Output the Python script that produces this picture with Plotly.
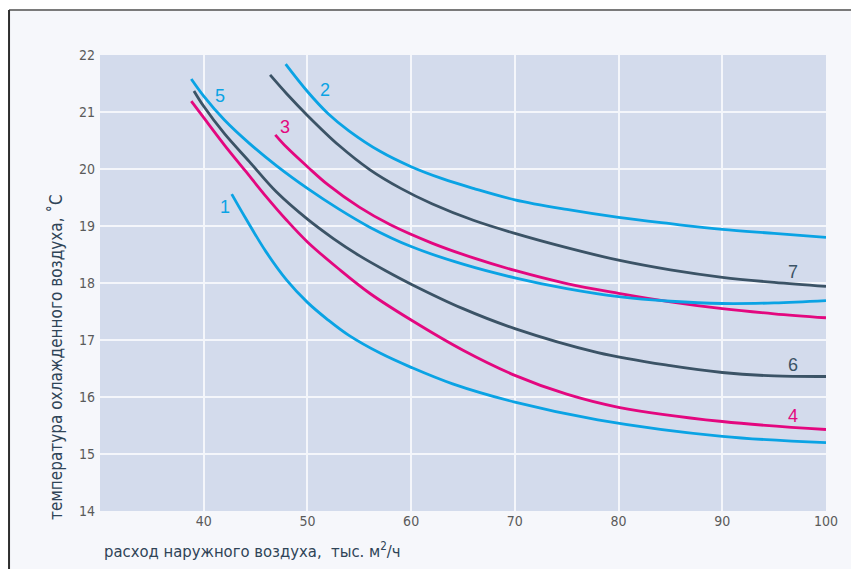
import plotly.graph_objects as go

# ---- data ----
x1 = [42.7, 44, 46, 48, 50, 52, 54, 57, 60, 64, 70, 78, 90, 100]
y1 = [19.56, 19.15, 18.55, 18.05, 17.66, 17.35, 17.08, 16.77, 16.52, 16.23, 15.91, 15.60, 15.31, 15.20]

x2 = [47.9, 50, 52, 54, 57, 60, 63, 66, 70, 75, 80, 85, 90, 95, 100]
y2 = [21.84, 21.36, 20.97, 20.67, 20.31, 20.04, 19.83, 19.66, 19.46, 19.29, 19.15, 19.04, 18.94, 18.87, 18.80]

x3 = [46.9, 48, 50, 52, 55, 58, 62, 66, 70, 75, 80, 85, 90, 95, 100]
y3 = [20.60, 20.38, 20.04, 19.72, 19.33, 19.02, 18.70, 18.44, 18.22, 17.99, 17.82, 17.67, 17.55, 17.46, 17.39]

x4 = [38.8, 40, 42, 44, 46, 48, 50, 53, 56, 60, 65, 70, 75, 80, 90, 100]
y4 = [21.19, 20.90, 20.42, 19.97, 19.52, 19.10, 18.72, 18.25, 17.82, 17.35, 16.82, 16.38, 16.05, 15.82, 15.57, 15.43]

x5 = [38.8, 40, 42, 44.4, 47, 50, 53, 56, 60, 65, 70, 75, 80, 85, 90, 95, 100]
y5 = [21.58, 21.28, 20.86, 20.45, 20.06, 19.66, 19.30, 18.98, 18.64, 18.33, 18.09, 17.90, 17.76, 17.68, 17.64, 17.65, 17.69]

x6 = [39.06, 40, 42, 44.4, 47, 50, 52.5, 55, 57.5, 60, 65, 70, 78, 85, 90, 95, 100]
y6 = [21.37, 21.10, 20.62, 20.13, 19.60, 19.12, 18.78, 18.48, 18.22, 17.98, 17.55, 17.20, 16.78, 16.55, 16.43, 16.37, 16.36]

x7 = [46.4, 48, 50, 53, 56, 59, 62, 66, 70, 75, 80, 85, 90, 95, 100]
y7 = [21.65, 21.32, 20.94, 20.42, 19.99, 19.66, 19.39, 19.10, 18.87, 18.62, 18.40, 18.23, 18.10, 18.01, 17.94]

curve_names = ["1", "2", "3", "4", "5", "6", "7"]
label_x = [42.08, 51.65, 47.82, 96.86, 41.53, 96.86, 96.86]
label_y = [19.33, 21.39, 20.73, 15.67, 21.28, 16.56, 18.20]

x_ticks = [40, 50, 60, 70, 80, 90, 100]
y_ticks = [14, 15, 16, 17, 18, 19, 20, 21, 22]

x_title = "расход наружного воздуха,  тыс. м<sup>2</sup>/ч"
y_title = "температура охлажденного воздуха, ˚С"

# ---- styles ----
BLUE = "#0aa3e4"
PINK = "#e3077f"
DARK = "#3b5366"
colors = [BLUE, BLUE, PINK, PINK, BLUE, DARK, DARK]
series = [(x1, y1), (x2, y2), (x3, y3), (x4, y4), (x5, y5), (x6, y6), (x7, y7)]

NARROW = "Liberation Sans Narrow, DejaVu Sans Condensed, Arial Narrow, sans-serif"
LABEL_FONT = "Liberation Sans, Arial, sans-serif"

fig = go.Figure()
for (xs, ys), c, n in zip(series, colors, curve_names):
    fig.add_trace(go.Scatter(
        x=xs, y=ys, mode="lines", name=n,
        line=dict(color=c, width=2.8, shape="spline", smoothing=1.0),
        hoverinfo="skip", showlegend=False,
    ))

for n, lx, ly, c in zip(curve_names, label_x, label_y, colors):
    fig.add_annotation(x=lx, y=ly, text=n, showarrow=False,
                       font=dict(family=LABEL_FONT, size=18, color=c),
                       xanchor="center", yanchor="middle")

# axis titles as annotations
fig.add_annotation(xref="paper", yref="paper", x=0.003, y=-0.0855,
                   text=x_title, showarrow=False, xanchor="left", yanchor="middle",
                   font=dict(family=NARROW, size=16.5, color="#2f4457"))
fig.add_annotation(xref="paper", yref="paper", x=-0.0606, y=0.3377,
                   text=y_title, showarrow=False, textangle=-90,
                   xanchor="center", yanchor="middle",
                   font=dict(family=NARROW, size=17, color="#2f4457"))

# frame lines (top and left) with white outside
fig.add_shape(type="rect", xref="paper", yref="paper", x0=-0.2, x1=1.1, y0=1.0987, y1=1.2,
              fillcolor="white", line=dict(width=0), layer="below")
fig.add_shape(type="line", xref="paper", yref="paper", x0=-0.1253, x1=1.1, y0=1.0987, y1=1.0987,
              line=dict(color="#7a7a7a", width=2), layer="below")
fig.add_shape(type="line", xref="paper", yref="paper", x0=-0.1253, x1=-0.1253, y0=-0.2, y1=1.0987,
              line=dict(color="#2e2e2e", width=2), layer="below")

fig.update_xaxes(range=[30, 100], tickvals=x_ticks, showgrid=True, gridcolor="#f4f6fb",
                 gridwidth=1.5, zeroline=False, showline=False, ticks="",
                 tickfont=dict(family=NARROW, size=14, color="#5a5a5a"))
fig.update_yaxes(range=[14, 22], tickvals=y_ticks, showgrid=True, gridcolor="#f4f6fb",
                 gridwidth=1.5, zeroline=False, showline=False, ticks="",
                 tickfont=dict(family=NARROW, size=14, color="#5a5a5a"), ticklabelstandoff=4)

fig.update_layout(
    width=843, height=561,
    margin=dict(l=92, r=25, t=47, b=58),
    paper_bgcolor="#f6f7fb",
    plot_bgcolor="#d3dbec",
)

fig.write_html("out.html")
